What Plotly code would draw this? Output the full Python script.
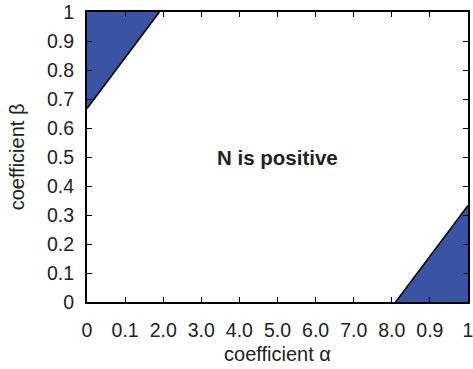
import plotly.graph_objects as go

# Data
x_tick_vals = [0, 0.1, 0.2, 0.3, 0.4, 0.5, 0.6, 0.7, 0.8, 0.9, 1]
x_tick_text = ["0", "0.1", "2.0", "3.0", "4.0", "5.0", "6.0", "7.0", "8.0", "0.9", "1"]
y_tick_vals = [0, 0.1, 0.2, 0.3, 0.4, 0.5, 0.6, 0.7, 0.8, 0.9, 1]
y_tick_text = ["0", "0.1", "0.2", "0.3", "0.4", "0.5", "0.6", "0.7", "0.8", "0.9", "1"]

top_region_x = [0, 0, 0.19, 0]
top_region_y = [0.667, 1, 1, 0.667]
bottom_region_x = [0.81, 1, 1, 0.81]
bottom_region_y = [0, 0, 0.333, 0]

top_edge_x = [0, 0.19]
top_edge_y = [0.667, 1]
bottom_edge_x = [0.81, 1]
bottom_edge_y = [0, 0.333]

label_text = "N is positive"
label_x, label_y = 0.5, 0.5

fill_color = "#3a53a2"
FONT = "Liberation Sans, Arial, Helvetica"

fig = go.Figure()
for xs, ys in [(top_region_x, top_region_y), (bottom_region_x, bottom_region_y)]:
    fig.add_trace(go.Scatter(x=xs, y=ys, fill="toself", fillcolor=fill_color,
                             mode="lines", line=dict(width=0, color=fill_color),
                             showlegend=False, hoverinfo="skip"))
for xs, ys in [(top_edge_x, top_edge_y), (bottom_edge_x, bottom_edge_y)]:
    fig.add_trace(go.Scatter(x=xs, y=ys, mode="lines",
                             line=dict(width=1.5, color="black"),
                             showlegend=False, hoverinfo="skip"))

fig.add_annotation(x=label_x, y=label_y, text="<b>" + label_text + "</b>",
                   showarrow=False, font=dict(size=20.5, color="#222222", family=FONT))

axis_common = dict(showgrid=False, zeroline=False, showline=True, linecolor="black",
                   linewidth=2, mirror="ticks", ticks="inside", ticklen=5,
                   tickwidth=1, tickcolor="black", ticklabeloverflow="allow",
                   tickfont=dict(size=19.5, color="#222222", family=FONT))

fig.update_layout(
    width=473, height=369,
    margin=dict(l=87, r=5, t=12, b=67),
    plot_bgcolor="white", paper_bgcolor="white",
    xaxis=dict(range=[0, 1], tickvals=x_tick_vals, ticktext=x_tick_text,
               ticklabelstandoff=10, automargin=False,
               title=dict(text="coefficient α", standoff=7,
                          font=dict(size=20, color="#222222", family=FONT)),
               **axis_common),
    yaxis=dict(range=[0, 1], tickvals=y_tick_vals, ticktext=y_tick_text,
               ticklabelstandoff=7, automargin=False,
               title=dict(text="coefficient β", standoff=17,
                          font=dict(size=20, color="#222222", family=FONT)),
               **axis_common),
)

fig.write_html("out.html")
